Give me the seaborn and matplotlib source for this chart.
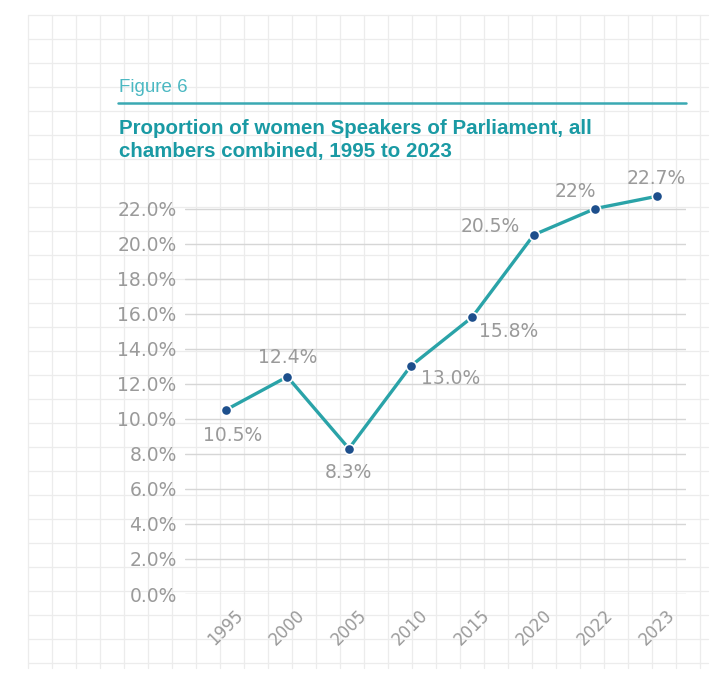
import matplotlib
matplotlib.use("Agg")
import matplotlib.pyplot as plt
import seaborn as sns
import pandas as pd
import numpy as np

years = ["1995", "2000", "2005", "2010", "2015", "2020", "2022", "2023"]
values = [10.5, 12.4, 8.3, 13.0, 15.8, 20.5, 22.0, 22.7]
labels = ["10.5%", "12.4%", "8.3%", "13.0%", "15.8%", "20.5%", "22%", "22.7%"]
yticks = [0, 2, 4, 6, 8, 10, 12, 14, 16, 18, 20, 22]

sns.set_theme(style="white")
plt.rcParams['font.family'] = ['DejaVu Sans']

W, H = 722, 695
fig = plt.figure(figsize=(W / 100, H / 100), dpi=100)

# background graph-paper grid
bg = fig.add_axes([0, 0, 1, 1], zorder=0)
bg.set_xlim(0, W)
bg.set_ylim(H, 0)
bg.axis("off")
for gx in np.arange(28, 712, 24):
    bg.plot([gx, gx], [15, 668], color="#ececec", lw=0.9)
for gy in np.arange(15, 670, 24):
    bg.plot([28, 708], [gy, gy], color="#ececec", lw=0.9)

teal = "#1a9aa4"
# header
fig.text(119 / W, 1 - 88 / H, "Figure 6", color="#4bb8c2", fontsize=13.5, va="center", ha="left",
         family=["Liberation Sans", "DejaVu Sans"])
bg.plot([118, 686], [103, 103], color="#3aa9b3", lw=1.8)
fig.text(119 / W, 1 - 140 / H, "Proportion of women Speakers of Parliament, all\nchambers combined, 1995 to 2023",
         color=teal, fontsize=14.8, fontweight="bold", va="center", ha="left", linespacing=1.32,
         family=["Liberation Sans", "DejaVu Sans"])

ax = fig.add_axes([185 / W, 1 - 594 / H, (686 - 185) / W, (594 - 191) / H], zorder=1)
ax.patch.set_alpha(0)

df = pd.DataFrame({"idx": np.arange(len(years)), "value": values})
sns.lineplot(data=df, x="idx", y="value", ax=ax, color="#2aa3a8", lw=2.4, zorder=2)
sns.scatterplot(data=df, x="idx", y="value", ax=ax, color="#1d4f8c", s=55,
                edgecolor="white", linewidth=1.2, zorder=3)

ax.set_xlim(-0.66, 7.47)
ax.set_ylim(0, 23)
ax.set_yticks(yticks)
ax.set_yticklabels([f"{v:.1f}%" for v in yticks], color="#9a9a9a", fontsize=13.5)
ax.set_xticks(np.arange(len(years)))
ax.set_xticklabels(years, rotation=45, color="#9a9a9a", fontsize=12, ha="center", va="top")
ax.tick_params(axis="x", pad=9, length=0)
ax.tick_params(axis="y", pad=6, length=0)
ax.set_xlabel("")
ax.set_ylabel("")
ax.yaxis.grid(True, color="#d6d6d6", lw=1.0)
ax.set_axisbelow(True)
for s in ax.spines.values():
    s.set_visible(False)

# data labels (offsets in points)
offsets = [(5, -18), (0, 14), (0, -17), (29, -8.6), (26.6, -10), (-31.7, 5.8), (-14.4, 12.2), (-0.5, 13)]
for i, (v, lab) in enumerate(zip(values, labels)):
    dx, dy = offsets[i]
    ax.annotate(lab, (i, v), xytext=(dx, dy), textcoords="offset points",
                ha="center", va="center", color="#9a9a9a", fontsize=13.5)

fig.savefig("out.png", dpi=100)
